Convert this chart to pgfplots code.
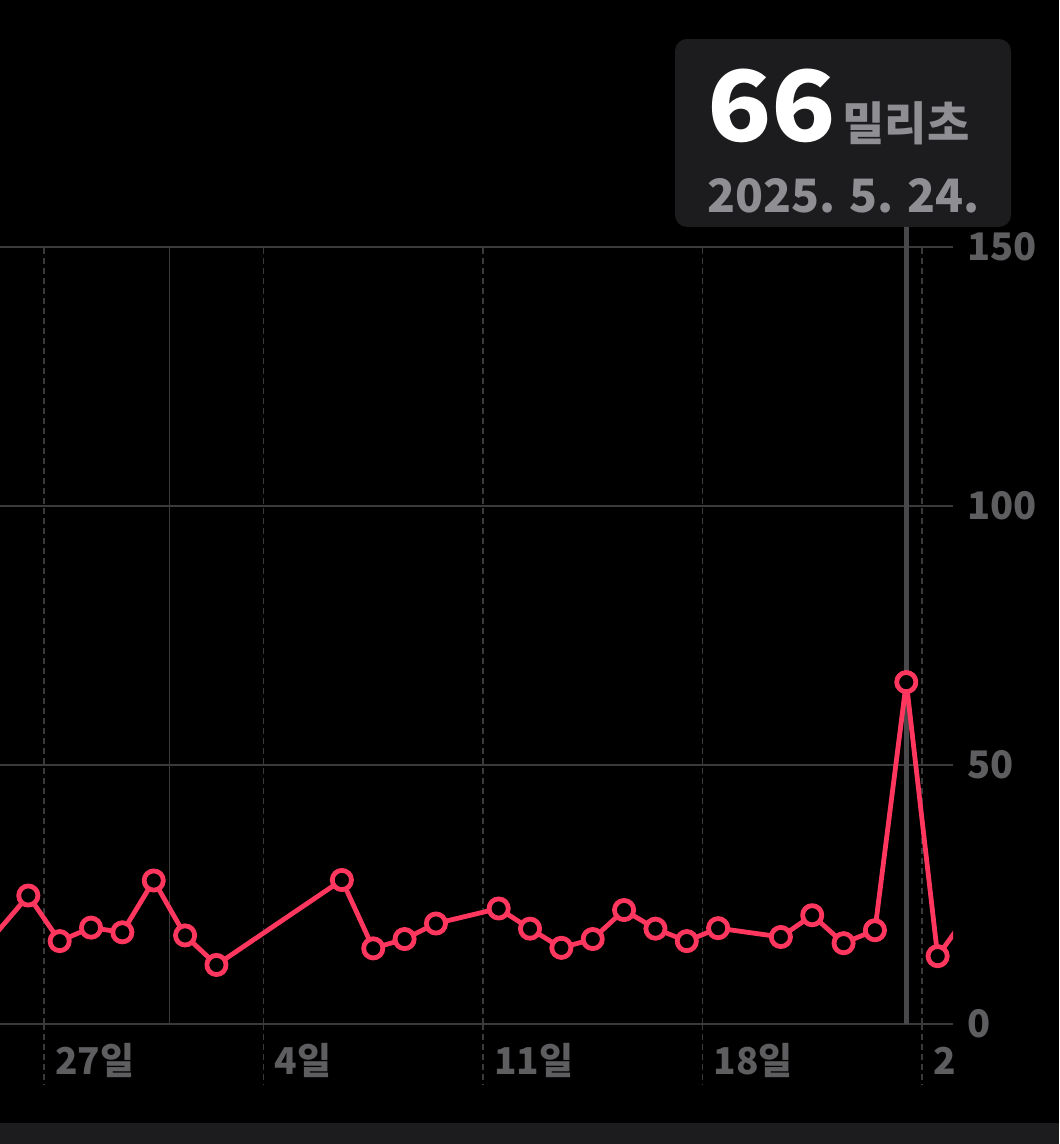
\documentclass[border=0pt]{standalone}
\usepackage{fontspec}
\setmainfont{Noto Sans CJK KR}
\usepackage{pgfplots}
\pgfplotsset{compat=1.18}
\definecolor{hpink}{HTML}{FF375F}
\definecolor{tipbg}{HTML}{1C1C1E}
\definecolor{gridc}{HTML}{3A3A3C}
\definecolor{tickc}{HTML}{5E5E60}
\definecolor{subc}{HTML}{8E8E93}
\definecolor{selc}{HTML}{48484A}
\begin{document}
\begin{tikzpicture}
\fill[black] (0,0) rectangle (529.5pt,572pt);
\fill[tipbg] (0,0) rectangle (529.5pt,10.5pt);
\begin{axis}[
  at={(0pt,60pt)}, anchor=south west,
  scale only axis, width=476.5pt, height=388.5pt,
  xmin=-1.403, xmax=28.99, ymin=0, ymax=150,
  clip mode=individual,
  axis line style={draw=none},
  major tick length=0pt,
  xtick={0,7,14,21,28},
  xticklabels={27일,4일,11일,18일,2},
  xticklabel style={anchor=base west, inner sep=0pt, xshift=5.5pt, yshift=-25.5pt, font=\bfseries\fontsize{18.5}{18.5}\selectfont, text=tickc},
  xmajorgrids, major x grid style={gridc, line width=0.9pt, dash pattern=on 3pt off 2pt},
  ytick={0,50,100,150},
  yticklabels={0,50,100,150},
  yticklabel pos=right,
  yticklabel style={anchor=west, inner sep=0pt, xshift=7pt, font=\bfseries\fontsize{19}{19}\selectfont, text=tickc},
  ymajorgrids, major y grid style={gridc, line width=0.9pt},
  /pgf/number format/assume math mode=true,
]
\pgfplotsinvokeforeach{0,7,14,21,28}{
  \draw[gridc, line width=0.9pt, dash pattern=on 3pt off 2pt] (axis cs:#1,0) -- (axis cs:#1,-11.8);
}
\draw[gridc, line width=0.8pt] (axis cs:4,0) -- (axis cs:4,150);
\draw[selc, line width=2.5pt] (axis cs:27.5,0) -- (axis cs:27.5,156);
\addplot[hpink, line width=2.4pt, line join=round, mark=*, mark size=4.8pt,
  mark options={fill=black, draw=hpink, line width=2.4pt}] table {
x y
-1.5 17.7
-0.5 24.8
0.5 16.0
1.5 18.6
2.5 17.7
3.5 27.7
4.5 17.1
5.5 11.4
9.5 27.8
10.5 14.6
11.5 16.4
12.5 19.4
14.5 22.3
15.5 18.4
16.5 14.7
17.5 16.4
18.5 22.0
19.5 18.4
20.5 16.0
21.5 18.5
23.5 16.8
24.5 21.0
25.5 15.6
26.5 18.1
27.5 66
28.5 13.1
29.5 21.5
};
\end{axis}
\fill[tipbg, rounded corners=6pt] (337.5pt,458.5pt) rectangle (505.5pt,552.5pt);
\node[anchor=base west, inner sep=0pt, text=white, font=\bfseries\fontsize{49}{49}\selectfont] at (353.5pt,501pt) {\scalebox{1.08}[1]{66}};
\node[anchor=base west, inner sep=0pt, text=subc, font=\bfseries\fontsize{23}{23}\selectfont] at (421pt,501.5pt) {밀리초};
\node[anchor=base west, inner sep=0pt, text=subc, font=\bfseries\fontsize{23}{23}\selectfont] at (353.5pt,465.5pt) {2025. 5. 24.};
\pgfresetboundingbox
\path[use as bounding box] (0,0) rectangle (529.5pt,572pt);
\end{tikzpicture}
\end{document}
